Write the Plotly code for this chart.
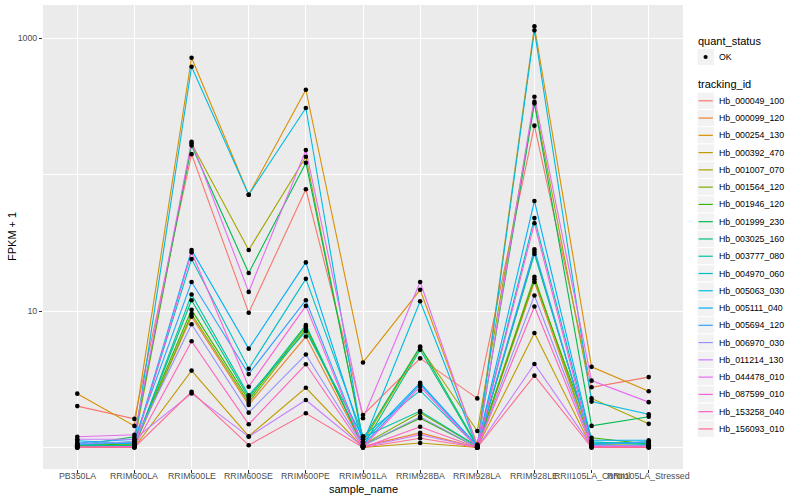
import plotly.graph_objects as go

samples = ["PB350LA", "RRIM600LA", "RRIM600LE", "RRIM600SE", "RRIM600PE", "RRIM901LA",
           "RRIM928BA", "RRIM928LA", "RRIM928LE", "RRII105LA_Control", "RRII105LA_Stressed"]

tracking_ids = ["Hb_000049_100", "Hb_000099_120", "Hb_000254_130", "Hb_000392_470",
                "Hb_001007_070", "Hb_001564_120", "Hb_001946_120", "Hb_001999_230",
                "Hb_003025_160", "Hb_003777_080", "Hb_004970_060", "Hb_005063_030",
                "Hb_005111_040", "Hb_005694_120", "Hb_006970_030", "Hb_011214_130",
                "Hb_044478_010", "Hb_087599_010", "Hb_153258_040", "Hb_156093_010"]

colors = ["#F8766D", "#EA8331", "#D89000", "#C09B00", "#A3A500", "#7CAE00", "#39B600",
          "#00BB4E", "#00BF7D", "#00C1A3", "#00BFC4", "#00BAE0", "#00B0F6", "#35A2FF",
          "#9590FF", "#C77CFF", "#E76BF3", "#FA62DB", "#FF62BC", "#FF6C90"]

# FPKM + 1 per tracking_id, in sample order
fpkm_000049_100 = [2.01, 1.62, 141, 9.7, 78, 1.73, 4.5, 2.29, 228, 2.76, 3.28]
fpkm_000099_120 = [1.0, 1.05, 9.1, 2.05, 6.5, 1.02, 1.28, 1.0, 16.3, 1.03, 1.02]
fpkm_000254_130 = [2.48, 1.44, 717, 71, 418, 4.2, 14.3, 1.05, 1219, 3.9, 2.58]
fpkm_000392_470 = [1.0, 1.0, 3.66, 1.21, 2.74, 1.0, 1.08, 1.0, 6.9, 1.0, 1.0]
fpkm_001007_070 = [1.03, 1.1, 169, 28, 135, 1.1, 5.4, 1.32, 341, 2.29, 1.49]
fpkm_001564_120 = [1.02, 1.03, 9.5, 2.13, 7.4, 1.05, 1.8, 1.02, 17.8, 1.05, 1.04]
fpkm_001946_120 = [1.04, 1.06, 10.2, 2.23, 7.7, 1.04, 1.64, 1.0, 17.1, 1.18, 1.06]
fpkm_001999_230 = [1.04, 1.2, 163, 19, 122, 1.15, 5.5, 1.03, 331, 1.44, 1.68]
fpkm_003025_160 = [1.02, 1.04, 12.0, 2.32, 7.9, 1.02, 5.2, 1.01, 26.2, 1.08, 1.08]
fpkm_003777_080 = [1.05, 1.02, 13.2, 2.41, 7.1, 1.19, 1.85, 1.02, 27.2, 1.06, 1.1]
fpkm_004970_060 = [1.06, 1.08, 24, 3.78, 17.2, 1.21, 2.61, 1.01, 48, 1.1, 1.05]
fpkm_005063_030 = [1.05, 1.1, 616, 71, 307, 1.08, 11.8, 1.0, 1138, 2.17, 1.75]
fpkm_005111_040 = [1.12, 1.06, 28, 5.3, 22.7, 1.1, 2.98, 1.03, 64, 1.13, 1.13]
fpkm_005694_120 = [1.08, 1.15, 16.3, 3.45, 12.0, 1.04, 2.9, 1.02, 28.3, 1.05, 1.1]
fpkm_006970_030 = [1.06, 1.1, 8.0, 1.80, 4.8, 1.03, 1.68, 1.0, 13.0, 1.04, 1.03]
fpkm_011214_130 = [1.15, 1.15, 2.49, 1.20, 2.23, 1.01, 1.24, 1.0, 4.09, 1.02, 1.02]
fpkm_044478_010 = [1.2, 1.24, 174, 13.8, 151, 1.64, 16.3, 1.02, 371, 3.09, 2.15]
fpkm_087599_010 = [1.0, 1.02, 26.9, 2.79, 10.9, 1.01, 2.79, 1.0, 44, 1.02, 1.01]
fpkm_153258_040 = [1.01, 1.01, 6.0, 1.48, 4.07, 1.0, 1.42, 1.0, 10.8, 1.01, 1.01]
fpkm_156093_010 = [1.0, 1.0, 2.56, 1.04, 1.78, 1.0, 1.17, 1.0, 3.36, 1.0, 1.0]

series = [fpkm_000049_100, fpkm_000099_120, fpkm_000254_130, fpkm_000392_470,
          fpkm_001007_070, fpkm_001564_120, fpkm_001946_120, fpkm_001999_230,
          fpkm_003025_160, fpkm_003777_080, fpkm_004970_060, fpkm_005063_030,
          fpkm_005111_040, fpkm_005694_120, fpkm_006970_030, fpkm_011214_130,
          fpkm_044478_010, fpkm_087599_010, fpkm_153258_040, fpkm_156093_010]

y_ticks = [10, 1000]
y_minor = [1, 100]

FONT = "Liberation Sans, Arial, sans-serif"
W, H = 800, 500
PL, PR, PT, PB = 43, 683, 5, 469

fig = go.Figure()
for name, vals, col in zip(tracking_ids, series, colors):
    fig.add_trace(go.Scatter(x=samples, y=vals, mode="lines", name=name,
                             line=dict(color=col, width=1.1), showlegend=False,
                             hoverinfo="skip"))
for name, vals in zip(tracking_ids, series):
    fig.add_trace(go.Scatter(x=samples, y=vals, mode="markers", name=name,
                             marker=dict(color="black", size=4.6, symbol="circle"),
                             showlegend=False))

def px(x):
    return (x - PL) / (PR - PL)

def py(y):
    return (PB - y) / (PB - PT)

shapes = []
annotations = []

# x tick labels (placed like ggplot, allowed to overlap)
for s in samples:
    annotations.append(dict(x=s, y=py(476.5), xref="x", yref="paper", text=s,
                            showarrow=False, xanchor="center", yanchor="middle",
                            font=dict(family=FONT, size=8.8, color="#4D4D4D")))

# axis titles
annotations.append(dict(x=px(363), y=py(488.5), xref="paper", yref="paper", text="sample_name",
                        showarrow=False, xanchor="center", yanchor="middle",
                        font=dict(family=FONT, size=11, color="black")))
annotations.append(dict(x=px(12), y=py(237), xref="paper", yref="paper", text="FPKM + 1",
                        showarrow=False, xanchor="center", yanchor="middle", textangle=-90,
                        font=dict(family=FONT, size=11, color="black")))

# legend: quant_status
annotations.append(dict(x=px(696), y=py(41), xref="paper", yref="paper", text="quant_status",
                        showarrow=False, xanchor="left", yanchor="middle",
                        font=dict(family=FONT, size=11, color="black")))
kx0, kx1 = 697, 714.3
shapes.append(dict(type="rect", xref="paper", yref="paper", x0=px(kx0), x1=px(kx1),
                   y0=py(48.4), y1=py(65.6), fillcolor="#F2F2F2", line=dict(color="white", width=1)))
shapes.append(dict(type="circle", xref="paper", yref="paper", x0=px(703.5), x1=px(707.7),
                   y0=py(54.9), y1=py(59.1), fillcolor="black", line=dict(color="black", width=0)))
annotations.append(dict(x=px(716.5), y=py(57), xref="paper", yref="paper", text="OK",
                        showarrow=False, xanchor="left", yanchor="middle",
                        font=dict(family=FONT, size=8.8, color="black")))

# legend: tracking_id
annotations.append(dict(x=px(696), y=py(84), xref="paper", yref="paper", text="tracking_id",
                        showarrow=False, xanchor="left", yanchor="middle",
                        font=dict(family=FONT, size=11, color="black")))
step = 17.27
for i, (name, col) in enumerate(zip(tracking_ids, colors)):
    cy = 100.8 + step * i
    shapes.append(dict(type="rect", xref="paper", yref="paper", x0=px(kx0), x1=px(kx1),
                       y0=py(cy - step / 2), y1=py(cy + step / 2), fillcolor="#F2F2F2",
                       line=dict(color="white", width=1)))
    shapes.append(dict(type="line", xref="paper", yref="paper", x0=px(698.5), x1=px(712.8),
                       y0=py(cy), y1=py(cy), line=dict(color=col, width=1.2)))
    annotations.append(dict(x=px(716.5), y=py(cy), xref="paper", yref="paper", text=name,
                            showarrow=False, xanchor="left", yanchor="middle",
                            font=dict(family=FONT, size=8.8, color="black")))

fig.update_layout(
    width=W, height=H,
    margin=dict(l=PL, r=W - PR, t=PT, b=H - PB, autoexpand=False),
    paper_bgcolor="white", plot_bgcolor="#EBEBEB",
    font=dict(family=FONT, size=8.8, color="#4D4D4D"),
    showlegend=False,
    shapes=shapes, annotations=annotations,
    xaxis=dict(type="category", categoryorder="array", categoryarray=samples,
               range=[-0.6, 10.6], showgrid=True, gridcolor="white", gridwidth=1.2,
               zeroline=False, showline=False, ticks="outside", ticklen=3, tickwidth=1,
               tickcolor="#333333", showticklabels=False, automargin=False),
    yaxis=dict(type="log", range=[-0.1575, 3.242], tickmode="array", tickvals=y_ticks,
               ticktext=[str(v) for v in y_ticks], showgrid=True, gridcolor="white",
               gridwidth=1.2, zeroline=False, showline=False, ticks="outside", ticklen=3,
               tickwidth=1, tickcolor="#333333", automargin=False,
               tickfont=dict(size=8.8, color="#4D4D4D"),
               minor=dict(tickmode="array", tickvals=y_minor, showgrid=True,
                          gridcolor="white", gridwidth=0.7, ticks="")),
)

fig.write_html("out.html", config={"displayModeBar": False},
               post_script="document.body.style.margin='0px';document.body.style.padding='0px';")
